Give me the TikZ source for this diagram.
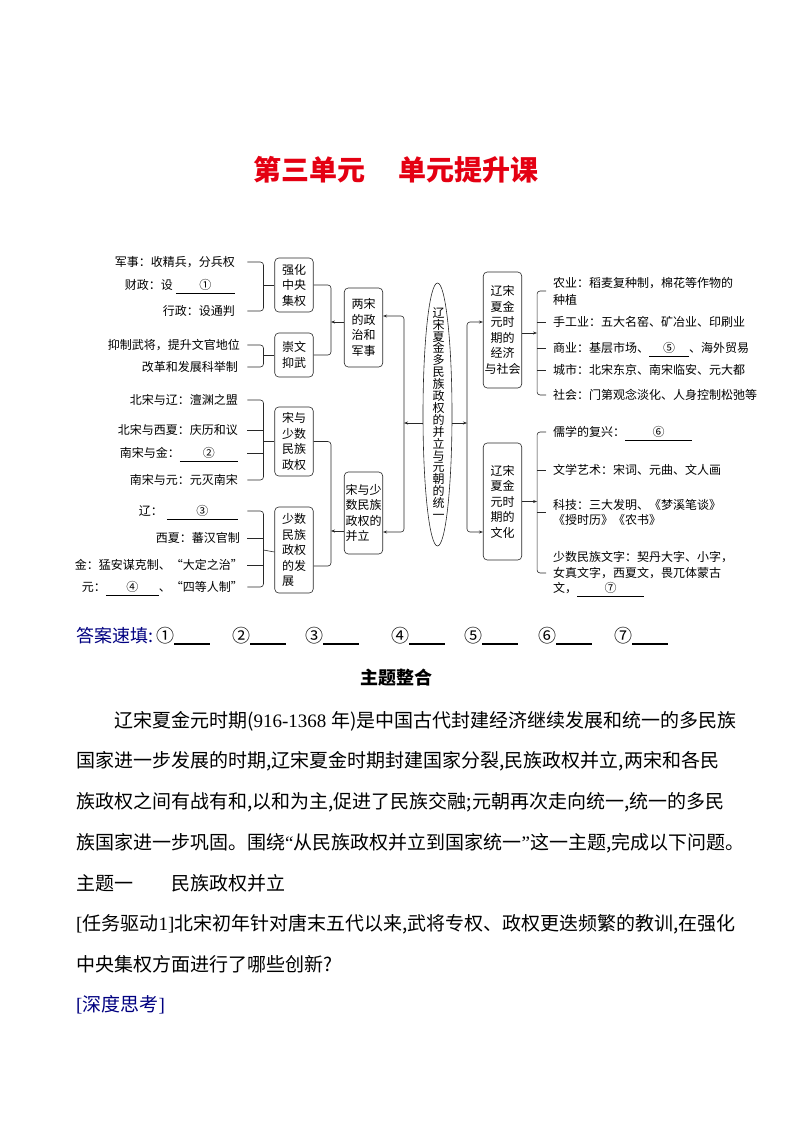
\documentclass[tikz,border=0pt]{standalone}
\usepackage{fontspec}
\setmainfont{Noto Sans CJK SC}
\newfontfamily\latin{Liberation Serif}
\usepackage{tikz}
\usetikzlibrary{shapes.geometric, arrows.meta, positioning}
\definecolor{titlered}{RGB}{228,0,18}
\definecolor{ansblue}{RGB}{0,0,128}
\definecolor{linegray}{RGB}{40,40,40}
\newcommand\diagfont{\fontsize{12}{15.5}\selectfont}
\newcommand\corefont{\fontsize{12}{11.9}\selectfont\lineskiplimit=-6pt}
\newcommand\bodyfont{\fontsize{19}{22}\selectfont}
\newcommand\blankfill[2]{\rlap{\smash{\rule[-3.5pt]{#1}{0.5pt}}}\makebox[#1]{#2}}

\begin{document}
\begin{tikzpicture}[x=1pt, y=-1pt,
  box/.style={draw=linegray, line width=0.6pt, rounded corners=4pt, font=\diagfont, align=center, inner sep=1pt, minimum width=38.5pt},
  leaf/.style={font=\diagfont, inner sep=0pt, anchor=east},
  item/.style={font=\diagfont, inner sep=0pt, anchor=west, align=left},
  link/.style={draw=linegray, line width=0.6pt, rounded corners=3pt},
  arrow/.style={link, -{Stealth[length=4pt, width=3pt]}},
  body/.style={font=\bodyfont, inner sep=0pt, anchor=west},
  ans/.style={font=\fontsize{18}{20}\selectfont, inner sep=0pt, anchor=west}
]
\useasboundingbox (0,0) rectangle (794,1123);

% Title
\node[font=\fontsize{28}{30}\selectfont\bfseries, text=titlered] (title) at (396,170) {第三单元\hspace{33pt}单元提升课};

% Left leaves
\node[leaf] (jun) at (235,262) {军事：收精兵，分兵权};
\node[leaf] (cai) at (235,285) {财政：设\hspace{3pt}\blankfill{59pt}{①}};
\node[leaf] (xing) at (235,311) {行政：设通判};
\node[leaf] (yi) at (240,345) {抑制武将，提升文官地位};
\node[leaf] (gai) at (238,367) {改革和发展科举制};
\node[leaf] (bls) at (238,400) {北宋与辽：澶渊之盟};
\node[leaf] (bx) at (238,430) {北宋与西夏：庆历和议};
\node[leaf] (nj) at (238,453) {南宋与金：\blankfill{58pt}{②}};
\node[leaf] (ny) at (238,480) {南宋与元：元灭南宋};
\node[leaf] (liao) at (238,511) {辽：\hspace{4pt}\blankfill{71pt}{③}};
\node[leaf] (xx) at (240,538) {西夏：蕃汉官制};
\node[leaf] (jin) at (243,565) {金：猛安谋克制、“大定之治”};
\node[leaf] (yuan) at (243,587) {元：\blankfill{53pt}{④}、“四等人制”};

% First level boxes
\node[box, minimum height=54pt] (qz) at (294,285) {强化\\中央\\集权};
\node[box, minimum height=44pt] (cw) at (294,355) {崇文\\抑武};
\node[box, minimum height=69pt] (sy) at (294,441.5) {宋与\\少数\\民族\\政权};
\node[box, minimum height=86pt, align=left] (fz) at (294,550) {少数\\民族\\政权\\的发\\展};

% Second level boxes
\node[box, minimum height=79pt] (lz) at (363.5,327.5) {两宋\\的政\\治和\\军事};
\node[box, minimum height=82pt, align=left] (bl) at (363.5,513) {宋与少\\数民族\\政权的\\并立};

% Core
\node[ellipse, draw=linegray, line width=0.6pt, minimum width=29pt, minimum height=263pt, inner sep=0pt] (core) at (437.5,414.5) {};
\node[font=\corefont, align=center, inner sep=0pt] (coretext) at (438.5,413.5) {辽\\宋\\夏\\金\\多\\民\\族\\政\\权\\的\\并\\立\\与\\元\\朝\\的\\统\\一};

% Right boxes
\node[box, minimum height=116pt] (econ) at (502.5,330) {辽宋\\夏金\\元时\\期的\\经济\\与社会};
\node[box, minimum height=117pt] (cult) at (502.5,501.5) {辽宋\\夏金\\元时\\期的\\文化};

% Right items
\node[item] (nong) at (553,291) {农业：稻麦复种制，棉花等作物的\\[1.5pt]种植};
\node[item] (sgy) at (553,322) {手工业：五大名窑、矿冶业、印刷业};
\node[item] (shang) at (553,348) {商业：基层市场、\blankfill{40pt}{⑤}、海外贸易};
\node[item] (cs) at (553,370) {城市：北宋东京、南宋临安、元大都};
\node[item] (sh) at (553,395) {社会：门第观念淡化、人身控制松弛等};
\node[item] (rx) at (553,432) {儒学的复兴：\blankfill{67pt}{⑥}};
\node[item] (wx) at (553,470) {文学艺术：宋词、元曲、文人画};
\node[item] (kj) at (553,512.5) {科技：三大发明、《梦溪笔谈》\\《授时历》《农书》};
\node[item] (ss) at (553,573) {少数民族文字：契丹大字、小字，\\女真文字，西夏文，畏兀体蒙古\\文，\blankfill{67pt}{⑦}};

% Spines around the core
\coordinate (lsp) at (404,423);
\coordinate (rsp) at (467,423);
\draw[arrow] (core.west |- lsp) -- (lsp);
\draw[arrow] (core.east |- rsp) -- (rsp);
\draw[arrow] (lsp) |- ([yshift=11.5pt]lz.east);
\draw[arrow] (lsp) |- ([yshift=-19pt]bl.east);
\draw[arrow] (rsp) |- ([yshift=8pt]econ.west);
\draw[arrow] (rsp) |- ([yshift=-30.5pt]cult.west);

% Second level brackets
\coordinate (lzout) at ([yshift=5.5pt]lz.west);
\coordinate (lk1) at ([xshift=-13pt]lzout);
\draw[link] (qz.east) -| (lk1) |- (cw.east);
\draw[arrow] (lzout) -- (lk1);
\coordinate (blout) at ([yshift=-18pt]bl.west);
\coordinate (lk2) at ([xshift=-13pt]blout);
\draw[link] (sy.east) -| (lk2) |- ([yshift=-16pt]fz.east);
\draw[arrow] (blout) -- (lk2);

% Leaf brackets, left
\coordinate (g1) at ([xshift=-11pt]qz.west);
\coordinate (t1) at ([xshift=-27pt]qz.west);
\draw[link] (t1 |- jun.east) -| (g1) |- (t1 |- xing.east);
\draw[link] (g1) -- (qz.west);

\coordinate (g2) at ([xshift=-11pt]cw.west);
\coordinate (t2) at ([xshift=-27pt]cw.west);
\draw[link] (t2 |- yi.east) -| (g2) |- (t2 |- gai.east);
\draw[link] (g2) -- (cw.west);

\coordinate (g3) at ([xshift=-11pt]sy.west);
\coordinate (t3) at ([xshift=-27pt]sy.west);
\draw[link] (t3 |- bls.east) -| (g3) |- (t3 |- ny.east);
\foreach \n in {bx, nj}
  \draw[link] (t3 |- \n.east) -- (g3 |- \n.east);
\draw[link] (g3) -- (sy.west);

\coordinate (g4) at ([xshift=-11pt]fz.west);
\coordinate (t4) at ([xshift=-27pt]fz.west);
\draw[link] (t4 |- liao.east) -| (g4) |- (t4 |- yuan.east);
\foreach \n in {xx, jin}
  \draw[link] (t4 |- \n.east) -- (g4 |- \n.east);
\draw[link] (g4) -- ([yshift=-2pt]fz.west);

% Leaf brackets, right
\coordinate (eout) at ([yshift=-3pt]econ.east);
\coordinate (ek) at ([xshift=15pt]eout);
\draw[arrow] (eout) -- (ek);
\draw[link] ([xshift=-7pt]nong.west) -| (ek |- sh.west) -- ([xshift=-7pt]sh.west);
\foreach \n in {sgy, shang, cs}
  \draw[link] (ek |- \n.west) -- ([xshift=-7pt]\n.west);

\coordinate (ck) at ([xshift=15pt]cult.east);
\draw[arrow] (cult.east) -- (ck);
\draw[link] ([xshift=-7pt]rx.west) -| (ck |- ss.west) -- ([xshift=-7pt]ss.west);
\foreach \n in {wx, kj}
  \draw[link] (ck |- \n.west) -- ([xshift=-7pt]\n.west);

% Quick answers
\node[ans, text=ansblue] (quick) at (76,636) {答案速填:};
\foreach \n/\x [count=\i] in {①/156, ②/232, ③/305, ④/391, ⑤/464, ⑥/538, ⑦/614}
  \node[ans] (ans\i) at (\x,636) {\n\rule[-3pt]{36pt}{2.4pt}};

% Text below
\node[font=\fontsize{18}{20}\selectfont\bfseries] (topic) at (396,678) {主题整合};
\node[body] (p1) at (114,721) {辽宋夏金元时期({\latin 916-1368 }年)是中国古代封建经济继续发展和统一的多民族};
\node[body] (p2) at (76,761.6) {国家进一步发展的时期,辽宋夏金时期封建国家分裂,民族政权并立,两宋和各民};
\node[body] (p3) at (76,802.2) {族政权之间有战有和,以和为主,促进了民族交融;元朝再次走向统一,统一的多民};
\node[body] (p4) at (76,842.8) {族国家进一步巩固。围绕{\latin “}从民族政权并立到国家统一{\latin ”}这一主题,完成以下问题。};
\node[body] (p5) at (76,883.4) {主题一　　民族政权并立};
\node[body] (p6) at (76,924) {{\latin [}任务驱动{\latin 1]}北宋初年针对唐末五代以来,武将专权、政权更迭频繁的教训,在强化};
\node[body] (p7) at (76,964.6) {中央集权方面进行了哪些创新?};
\node[body, text=ansblue] (p8) at (76,1005.2) {{\latin [}深度思考{\latin ]}};

\end{tikzpicture}
\end{document}
